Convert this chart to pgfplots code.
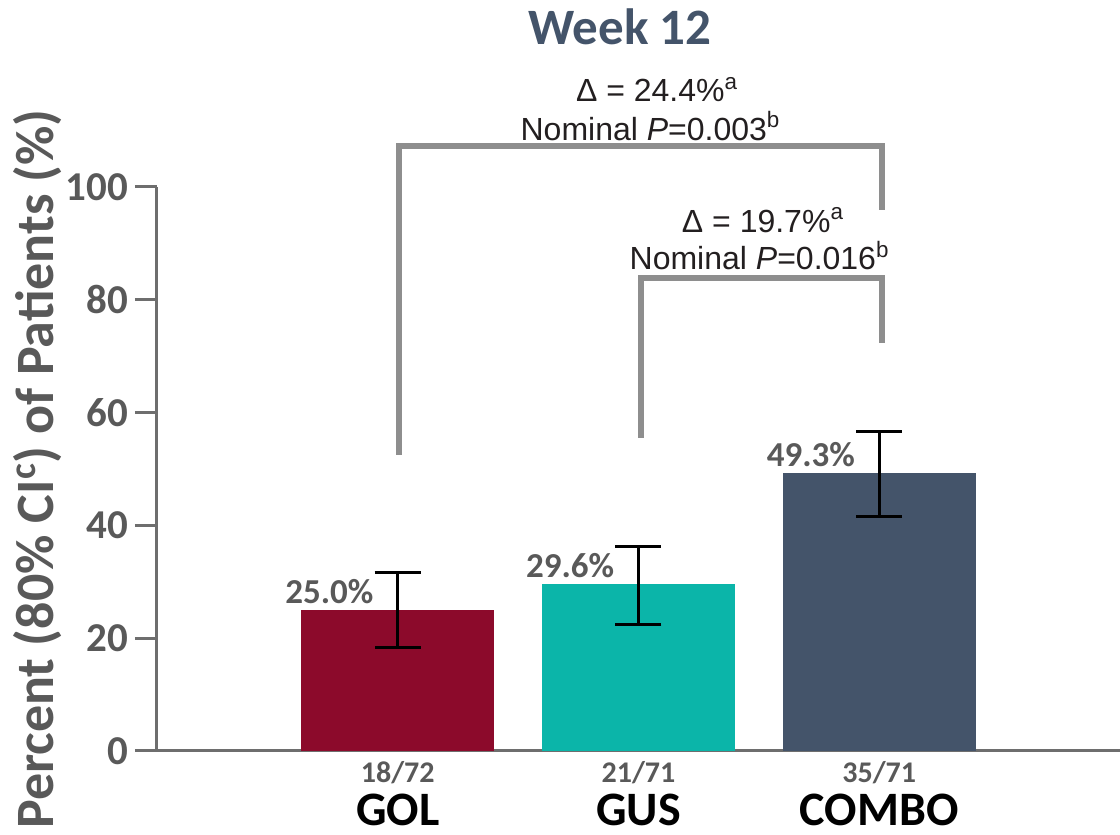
\documentclass[border=0pt]{standalone}
\usepackage{pgfplots}
\pgfplotsset{compat=1.18}
\usepackage{fontspec}
\setmainfont{Carlito}
\newfontfamily\arialfont{Liberation Sans}

\definecolor{golred}{HTML}{8C0A2B}
\definecolor{gusteal}{HTML}{0BB5A9}
\definecolor{comboslate}{HTML}{44546A}
\definecolor{labelgray}{HTML}{595959}
\definecolor{axisgray}{HTML}{6E6E6E}
\definecolor{bracketgray}{HTML}{8E8E8E}
\definecolor{notetext}{HTML}{231F20}

\pgfplotsset{
  pctbar/.style={
    ybar, bar width=0.8, bar shift=0pt, draw=none, fill=#1,
    error bars/.cd, y dir=both, y explicit,
      error bar style={black, line width=1.5pt},
      error mark options={rotate=90, black, line width=1.5pt, mark size=11.5pt},
    /pgfplots/.cd,
    nodes near coords={\pgfmathprintnumber[fixed,fixed zerofill,precision=1,assume math mode=true]{\pgfplotspointmeta}\%},
    nodes near coords style={anchor=south east, inner sep=0pt, xshift=-12pt, yshift=3pt,
      font=\fontsize{17.5}{20}\selectfont\bfseries, text=labelgray},
  },
}

\begin{document}
\begin{tikzpicture}
\useasboundingbox (-78.5pt,-42pt) rectangle (481.5pt,375.5pt);
\begin{axis}[
  at={(0,0)}, anchor=south west,
  scale only axis, width=481.5pt, height=282pt,
  xmin=0, xmax=4, ymin=0, ymax=100,
  clip=false,
  axis x line*=bottom, axis y line*=left,
  axis line style={axisgray, line width=1.5pt, -},
  ytick={0,20,...,100},
  ytick style={axisgray, line width=1.5pt},
  major tick length=11pt, tick align=outside,
  /pgf/number format/assume math mode=true,
  yticklabel style={font=\fontsize{20.5}{24}\selectfont\bfseries, text=labelgray},
  xtick={1,2,3}, xticklabels={18/72,21/71,35/71},
  xtick style={draw=none},
  xticklabel style={font=\fontsize{15}{18}\selectfont\bfseries, text=labelgray, yshift=9.5pt},
  extra x ticks={1,2,3}, extra x tick labels={GOL,GUS,COMBO},
  extra x tick style={xtick style={draw=none},
    xticklabel style={font=\fontsize{24}{28}\selectfont\bfseries, text=black,
      inner sep=0pt, yshift=-20pt}},
]
\addplot[pctbar=golred] table[x=x, y=y, y error plus=ep, y error minus=em] {
x y ep em
1 25.0 6.6 6.6
};
\addplot[pctbar=gusteal] table[x=x, y=y, y error plus=ep, y error minus=em] {
x y ep em
2 29.6 6.7 7.1
};
\addplot[pctbar=comboslate] table[x=x, y=y, y error plus=ep, y error minus=em] {
x y ep em
3 49.3 7.3 7.8
};

% comparison brackets
\draw[bracketgray, line width=3pt, line join=miter]
  (axis cs:1.005,52.5) -- (axis cs:1.005,107.3) -- (axis cs:3.01,107.3) -- (axis cs:3.01,95.9);
\draw[bracketgray, line width=3pt, line join=miter]
  (axis cs:2.01,55.5) -- (axis cs:2.01,83.9) -- (axis cs:3.01,83.9) -- (axis cs:3.01,72.3);

\begin{scope}[every node/.style={anchor=base, inner sep=0pt, text=notetext,
    font=\arialfont\fontsize{16}{19}\selectfont}]
\node at (axis cs:2.077,115.1) {Δ = 24.4\%\textsuperscript{a}};
\node at (axis cs:2.050,108.3) {Nominal \textit{P}=0.003\textsuperscript{b}};
\node at (axis cs:2.517,92.0) {Δ = 19.7\%\textsuperscript{a}};
\node at (axis cs:2.503,85.3) {Nominal \textit{P}=0.016\textsuperscript{b}};
\end{scope}
\end{axis}

% title and y-axis label
\node[anchor=base, inner sep=0pt, text=comboslate, font=\fontsize{25.5}{30}\selectfont\bfseries]
  at (231.5pt,353pt) {Week 12};
\node[rotate=90, anchor=base, inner sep=0pt, text=labelgray, font=\fontsize{27}{31}\selectfont\bfseries]
  at (-51.5pt,141pt) {Percent (80\% CI\textsuperscript{c}) of Patients (\%)};
\end{tikzpicture}
\end{document}
